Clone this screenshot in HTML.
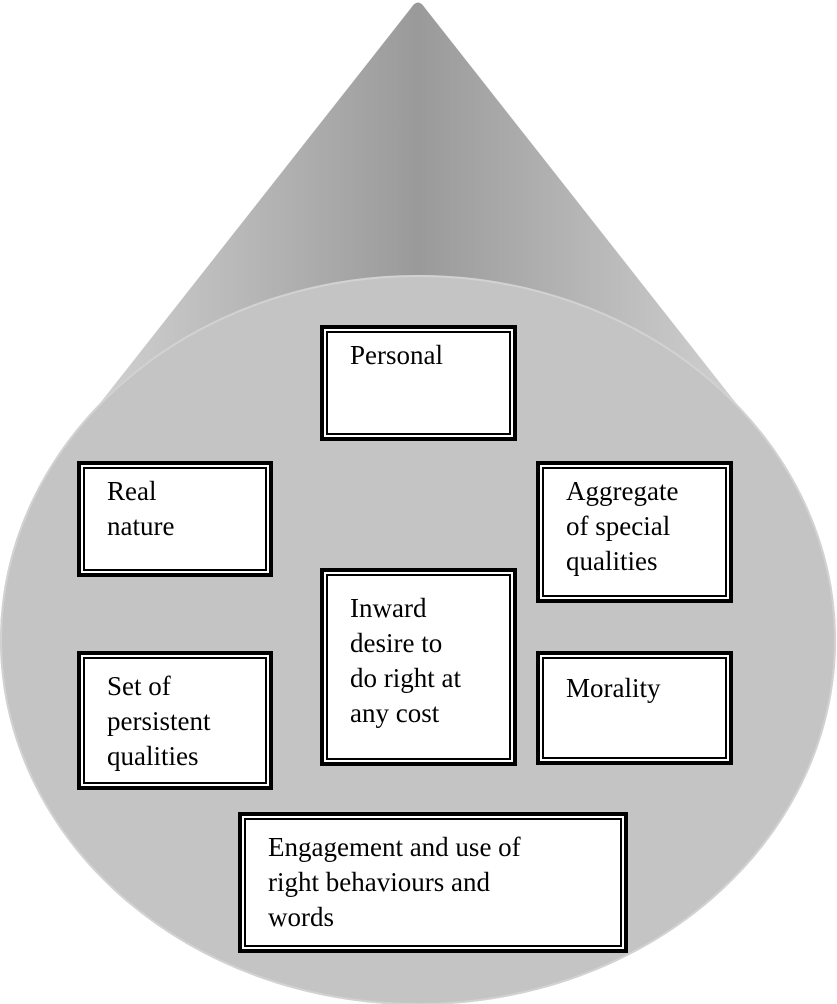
<!DOCTYPE html>
<html><head><style>
body{margin:0;background:#fff;width:837px;height:1004px;overflow:hidden;position:relative;font-family:"Liberation Serif","Tinos","Times New Roman","DejaVu Serif",serif}
svg{position:absolute;left:0;top:0}
.b{position:absolute;box-sizing:border-box;border:4px solid #000;background:#fff}
.b::after{content:"";position:absolute;left:2px;top:2px;right:2px;bottom:2px;border:2px solid #000}
.t{position:absolute;left:26px;top:9px;font-family:"Liberation Serif","Tinos","Times New Roman","DejaVu Serif",serif;font-size:27px;line-height:35px;color:#000;white-space:nowrap}
</style></head><body>
<svg width="837" height="1004">
<defs>
<linearGradient id="g" gradientUnits="userSpaceOnUse" x1="75" x2="761" y1="0" y2="0">
<stop offset="0" stop-color="#d4d4d4"/>
<stop offset="0.5" stop-color="#9a9a9a"/>
<stop offset="1" stop-color="#d4d4d4"/>
</linearGradient>
</defs>
<path d="M411,8 Q418,-3 425,8 L765,440 L71,440 Z" fill="url(#g)"/>
<ellipse cx="418" cy="640" rx="418" ry="365" fill="#c4c4c4"/>
<ellipse cx="418" cy="640" rx="417" ry="364" fill="none" stroke="#d2d2d2" stroke-width="2"/>
</svg>
<div class="b" style="left:320px;top:325px;width:197px;height:116px"><div class="t">Personal</div></div>
<div class="b" style="left:77px;top:461px;width:196px;height:116px"><div class="t">Real<br>nature</div></div>
<div class="b" style="left:536px;top:461px;width:197px;height:142px"><div class="t">Aggregate<br>of special<br>qualities</div></div>
<div class="b" style="left:320px;top:568px;width:197px;height:198px"><div class="t" style="top:19px">Inward<br>desire to<br>do right at<br>any cost</div></div>
<div class="b" style="left:77px;top:651px;width:196px;height:139px"><div class="t" style="top:14px">Set of<br>persistent<br>qualities</div></div>
<div class="b" style="left:536px;top:651px;width:197px;height:114px"><div class="t" style="top:16px">Morality</div></div>
<div class="b" style="left:238px;top:812px;width:390px;height:141px"><div class="t" style="top:14px">Engagement and use of<br>right behaviours and<br>words</div></div>
</body></html>
